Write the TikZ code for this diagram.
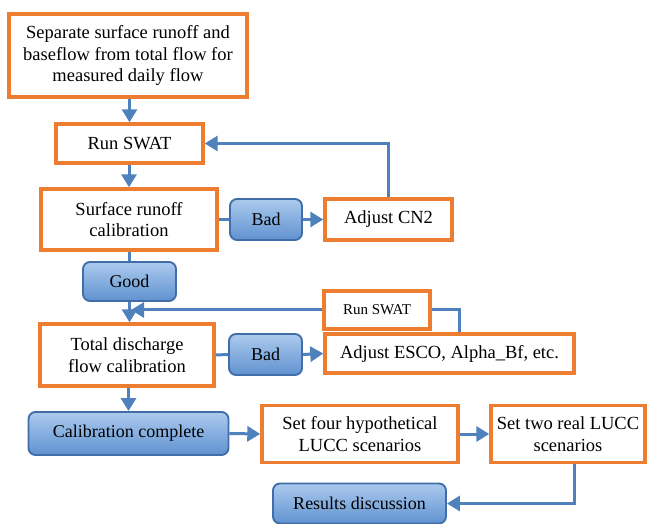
\documentclass[tikz,border=0pt]{standalone}
\usepackage{fontspec}
\setmainfont{Liberation Serif}
\usetikzlibrary{arrows.meta,calc}
\definecolor{orng}{RGB}{237,125,49}
\definecolor{arr}{RGB}{79,129,189}
\definecolor{btop}{RGB}{172,202,238}
\definecolor{bbot}{RGB}{96,146,208}
\definecolor{bdraw}{RGB}{65,110,168}
\tikzset{
  obox/.style={draw=orng,line width=3.4pt,fill=white,align=center,inner sep=2pt,font=\fontsize{18.5}{21.5}\selectfont},
  bbox/.style={draw=bdraw,line width=1.9pt,rounded corners=7pt,top color=btop,bottom color=bbot,align=center,inner sep=2pt,font=\fontsize{18}{21}\selectfont},
  conn/.style={draw=arr,line width=3pt},
  aconn/.style={conn,-{Triangle[length=13pt,width=15pt]}},
}
\begin{document}
\begin{tikzpicture}[x=1pt,y=-1pt]
\useasboundingbox (0,0) rectangle (649,524);
\node[obox,minimum width=238pt,minimum height=83pt] (sep) at (128,55.5) {Separate surface runoff and\\baseflow from total flow for\\measured daily flow};
\node[obox,minimum width=147pt,minimum height=39pt] (run1) at (129.5,143.5) {Run SWAT};
\node[obox,minimum width=176pt,minimum height=61pt] (surf) at (129,219.5) {Surface runoff\\calibration};
\node[bbox,minimum width=72pt,minimum height=41pt] (bad1) at (266,219.5) {Bad};
\node[obox,minimum width=127pt,minimum height=41pt] (cn2) at (388.5,219.5) {Adjust CN2};
\node[bbox,minimum width=93pt,minimum height=39pt] (good) at (129.5,281.5) {Good};
\node[obox,minimum width=106pt,minimum height=38pt,font=\fontsize{15}{18}\selectfont] (run2) at (377,310) {Run SWAT};
\node[obox,minimum width=174pt,minimum height=62pt] (tot) at (127,355) {Total discharge\\flow calibration};
\node[bbox,minimum width=73pt,minimum height=41pt] (bad2) at (265.5,354.5) {Bad};
\node[obox,minimum width=249pt,minimum height=39pt] (esco) at (449.5,353.5) {Adjust ESCO, Alpha\_Bf, etc.};
\node[bbox,minimum width=200pt,minimum height=43pt] (cal) at (128.5,433.5) {Calibration complete};
\node[obox,minimum width=196pt,minimum height=57pt] (four) at (360,434) {Set four hypothetical\\LUCC scenarios};
\node[obox,minimum width=154pt,minimum height=57pt] (two) at (568,434) {Set two real LUCC\\scenarios};
\node[bbox,minimum width=173pt,minimum height=40pt] (res) at (359.5,503.5) {Results discussion};
\coordinate (merge) at (131,310);
% connectors
\draw[aconn] (sep.south -| run1) -- (run1.north);
\draw[aconn] (run1.south -| surf) -- (surf.north);
\draw[conn] (surf.east) -- (bad1.west);
\draw[aconn] (bad1.east) -- (cn2.west);
\draw[aconn] (cn2.north) |- (run1.east);
\draw[conn] (surf.south -| good) -- (good.north);
\draw[aconn] (good.south) -- (good.south |- tot.north);
\draw[aconn] (run2.west) -- (merge);
\draw[conn] (run2.east) -| ($(esco.north)+(10,0)$);
\draw[conn] (tot.east) -- (bad2.west);
\draw[aconn] (bad2.east) -- (esco.west);
\draw[aconn] (tot.south -| cal) -- (cal.north);
\draw[aconn] (cal.east) -- (four.west);
\draw[aconn] (four.east) -- (two.west);
\draw[aconn] ($(two.south)+(6,0)$) |- (res.east);
\end{tikzpicture}
\end{document}
